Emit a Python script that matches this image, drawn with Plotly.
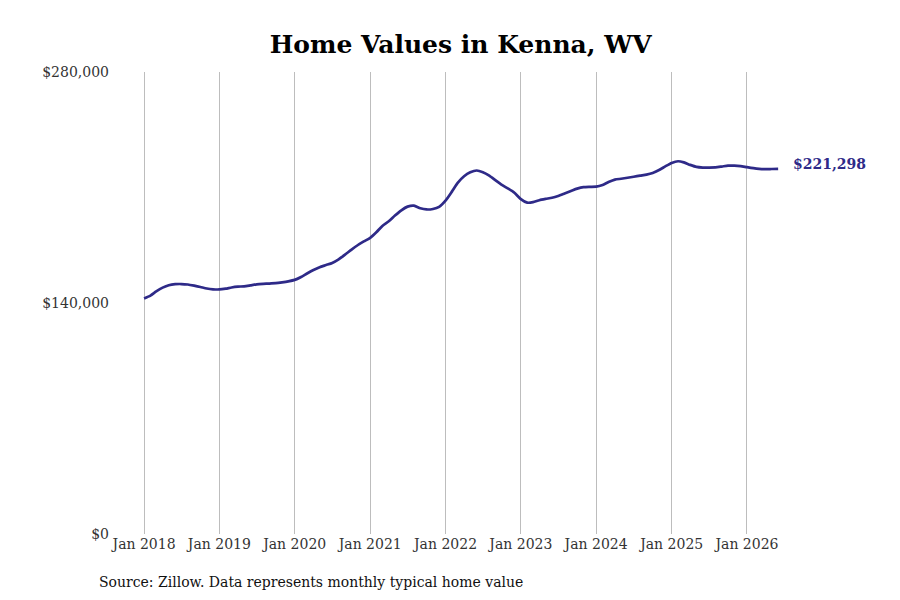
import pandas as pd
import plotly.graph_objects as go

# Monthly typical home value, Kenna WV
months = pd.date_range("2018-01-01", "2026-06-01", freq="MS")
values = [
    # 2018
    142800, 144500, 147000, 149300, 150800, 151400, 151500, 151200, 150500, 149700, 148800, 148300,
    # 2019
    148200, 148700, 149400, 149900, 150100, 150700, 151300, 151600, 151800, 152000, 152500, 153100,
    # 2020
    154000, 155800, 157900, 160000, 161700, 163000, 164300, 166500, 169300, 172200, 175000, 177300,
    # 2021
    179500, 183000, 186700, 189500, 193000, 196200, 198400, 199000, 197400, 196700, 197000, 198300,
    # 2022
    202000, 207500, 212800, 216800, 219200, 220300, 219300, 217200, 214300, 211600, 209300, 206800,
    # 2023
    203000, 200800, 201100, 202300, 203100, 203800, 204900, 206400, 207900, 209300, 210200, 210400,
    # 2024
    210500, 211500, 213300, 214800, 215300, 215900, 216500, 217200, 217800, 218800, 220600, 222800,
    # 2025
    224900, 225900, 225200, 223700, 222500, 222100, 222100, 222200, 222700, 223200, 223300, 223000,
    # 2026
    222300, 221700, 221300, 221100, 221200, 221298,
]
y_ticks = [0, 140000, 280000]
y_tick_labels = ["$0", "$140,000", "$280,000"]
x_ticks = pd.date_range("2018-01-01", "2026-01-01", freq="YS")
x_tick_labels = [d.strftime("Jan %Y") for d in x_ticks]

line_color = "#2e2a88"
font_family = "DejaVu Serif"

fig = go.Figure()
fig.add_trace(go.Scatter(
    x=months, y=values, mode="lines",
    line=dict(color=line_color, width=2.7, shape="spline", smoothing=0.6),
    hoverinfo="skip",
))

# label at the last value
fig.add_annotation(
    x=months[-1], y=values[-1], text="<b>${:,.0f}</b>".format(values[-1]),
    xref="x", yref="y", xanchor="left", yanchor="middle", xshift=13, yshift=5,
    showarrow=False, font=dict(family=font_family, size=14, color=line_color),
)

fig.add_annotation(
    x=-0.019, y=-0.104, xref="paper", yref="paper", xanchor="left", yanchor="middle",
    text="Source: Zillow. Data represents monthly typical home value",
    showarrow=False, font=dict(family=font_family, size=14, color="#111111"),
)

fig.update_layout(
    width=900, height=600,
    paper_bgcolor="white", plot_bgcolor="white",
    margin=dict(l=102, r=128, t=64, b=74),
    showlegend=False,
    font=dict(family=font_family, size=14, color="#333333"),
    title=dict(text="<b>Home Values in Kenna, WV</b>", x=0.503, xanchor="center", y=0.94, yanchor="middle",
               font=dict(family=font_family, size=25, color="#000000")),
)
fig.update_xaxes(
    range=["2017-07-20", "2026-06-10"],
    tickvals=x_ticks, ticktext=x_tick_labels,
    showgrid=True, gridcolor="#bdbdbd", gridwidth=1,
    showline=False, zeroline=False, ticks="",
    tickfont=dict(family=font_family, size=14, color="#333333"),
)
fig.update_yaxes(
    range=[0, 280000],
    tickvals=y_ticks, ticktext=y_tick_labels,
    showgrid=False, zeroline=False, showline=False, ticks="",
    tickfont=dict(family=font_family, size=14, color="#333333"),
)

fig.write_html("out.html")
